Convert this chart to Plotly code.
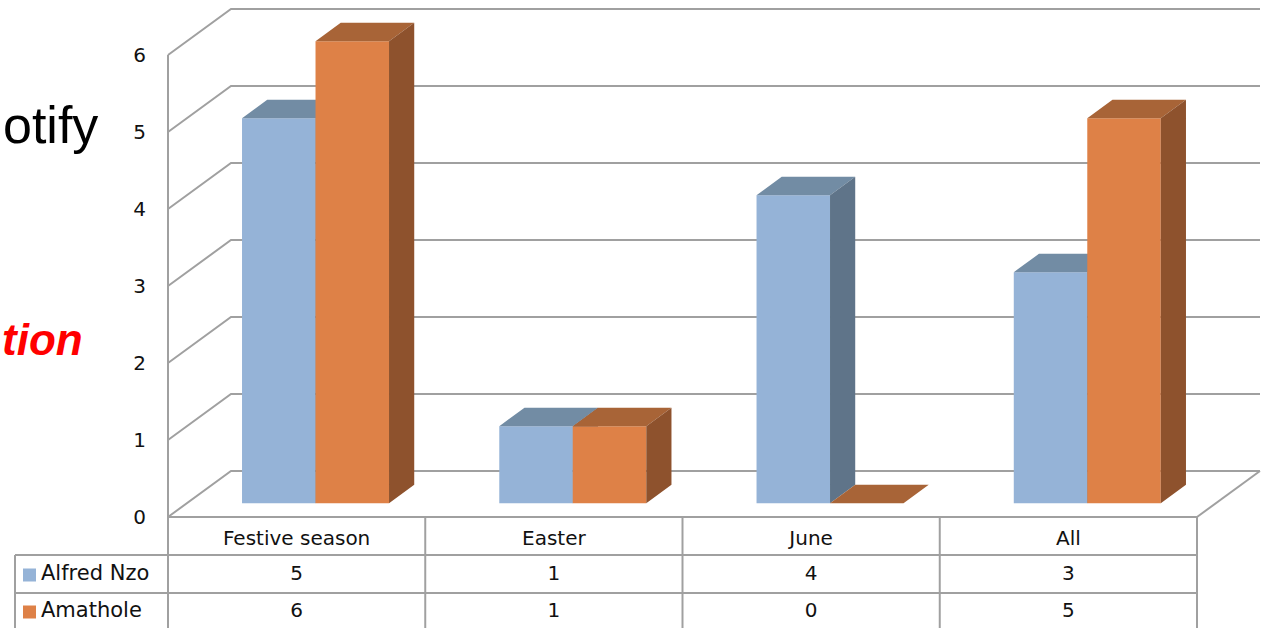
import plotly.graph_objects as go

# ---------------- data ----------------
categories = ["Festive season", "Easter", "June", "All"]
series_names = ["Alfred Nzo", "Amathole"]
alfred_nzo = [5, 1, 4, 3]
amathole = [6, 1, 0, 5]
y_ticks = [0, 1, 2, 3, 4, 5, 6]
series_values = [alfred_nzo, amathole]

# ---------------- style ----------------
front_colors = ["#95B3D7", "#DE8147"]
top_colors = ["#728CA4", "#A86437"]
side_colors = ["#5F7489", "#8E522D"]
grid_color = "#A0A0A0"
FONT = "DejaVu Sans"
FS = 20

W, H = 1262, 628
PX0, CATW = 168.0, 257.25      # front-left corner x, width of one category (px)
PY0, UNIT = 517.0, 77.0        # front baseline y, pixels per value unit

def px2x(px):
    return (px - PX0) / CATW

def py2y(py):
    return (PY0 - py) / UNIT

DX, DY = 63 / CATW, 46 / UNIT  # full depth offset of the back wall (data units)
D1, D2 = 0.30, 0.70            # bar front / back depth fractions
ncat = len(categories)
nser = len(series_values)
bw = 1.0 / (nser + 1.5)        # bar width, gap width 150 %
gap = (1.0 - nser * bw) / 2

fig = go.Figure()

# ---------------- back wall grid + floor ----------------
gx, gy = [], []
for v in y_ticks:
    gx += [0, DX, ncat + DX, None]
    gy += [v, v + DY, v + DY, None]
gx += [ncat, ncat + DX, None]
gy += [0, DY, None]
fig.add_trace(go.Scatter(x=gx, y=gy, mode="lines", line=dict(color=grid_color, width=2),
                         hoverinfo="skip", showlegend=False))

# ---------------- table grid ----------------
t_top = 0.0
t_r1 = py2y(555)
t_r2 = py2y(593)
t_bot = py2y(632)
leg_left = px2x(15)
tx, ty = [], []
tx += [0, ncat, None]; ty += [t_top, t_top, None]
tx += [leg_left, ncat, None]; ty += [t_r1, t_r1, None]
tx += [leg_left, ncat, None]; ty += [t_r2, t_r2, None]
tx += [leg_left, leg_left, None]; ty += [t_r1, t_bot, None]
tx += [0, 0, None]; ty += [max(y_ticks), t_bot, None]
for i in range(1, ncat + 1):
    tx += [i, i, None]; ty += [t_top, t_bot, None]
fig.add_trace(go.Scatter(x=tx, y=ty, mode="lines", line=dict(color=grid_color, width=2),
                         hoverinfo="skip", showlegend=False))

# ---------------- 3D bars ----------------
o1x, o1y = D1 * DX, D1 * DY
o2x, o2y = D2 * DX, D2 * DY
for s, vals in enumerate(series_values):
    fx, fy, topx, topy, sx, sy = [], [], [], [], [], []
    for i, v in enumerate(vals):
        xl = i + gap + s * bw
        xr = xl + bw
        fx += [xl + o1x, xr + o1x, xr + o1x, xl + o1x, xl + o1x, None]
        fy += [o1y, o1y, v + o1y, v + o1y, o1y, None]
        topx += [xl + o1x, xr + o1x, xr + o2x, xl + o2x, xl + o1x, None]
        topy += [v + o1y, v + o1y, v + o2y, v + o2y, v + o1y, None]
        sx += [xr + o1x, xr + o2x, xr + o2x, xr + o1x, xr + o1x, None]
        sy += [o1y, o2y, v + o2y, v + o1y, o1y, None]
    for px_, py_, col in [(fx, fy, front_colors[s]), (topx, topy, top_colors[s]),
                          (sx, sy, side_colors[s])]:
        fig.add_trace(go.Scatter(x=px_, y=py_, mode="lines", fill="toself",
                                 fillcolor=col, line=dict(width=0, color=col),
                                 hoverinfo="skip", showlegend=False,
                                 name=series_names[s]))

# ---------------- table text ----------------
cat_centers = [i + 0.5 for i in range(ncat)]
fig.add_trace(go.Scatter(x=cat_centers, y=[py2y(540)] * ncat, mode="text", text=categories,
                         textfont=dict(family=FONT, size=FS, color="#111111"),
                         cliponaxis=False, hoverinfo="skip", showlegend=False))
row_y = [py2y(575), py2y(612)]
for s, vals in enumerate(series_values):
    fig.add_trace(go.Scatter(x=cat_centers, y=[row_y[s]] * ncat, mode="text",
                             text=[str(v) for v in vals],
                             textfont=dict(family=FONT, size=FS, color="#111111"),
                             cliponaxis=False, hoverinfo="skip", showlegend=False))
    fig.add_trace(go.Scatter(x=[px2x(29.5)], y=[row_y[s]], mode="markers",
                             marker=dict(symbol="square", size=13, color=front_colors[s],
                                         line=dict(width=0)),
                             cliponaxis=False, hoverinfo="skip", showlegend=False))
    fig.add_trace(go.Scatter(x=[px2x(41)], y=[row_y[s]], mode="text",
                             text=[series_names[s]], textposition="middle right",
                             textfont=dict(family=FONT, size=21, color="#111111"),
                             cliponaxis=False, hoverinfo="skip", showlegend=False))

# ---------------- leftover slide text ----------------
fig.add_annotation(x=1 / W, y=1 - 125 / H, xref="paper", yref="paper", xanchor="left",
                   yanchor="middle", text="otify", showarrow=False,
                   font=dict(family="Liberation Sans", size=52, color="#000000"))
fig.add_annotation(x=85 / W, y=1 - 339 / H, xref="paper", yref="paper", xanchor="right",
                   yanchor="middle", text="<b><i>tion</i></b>", showarrow=False,
                   font=dict(family="Liberation Sans", size=44, color="#FF0000"))

fig.update_layout(
    width=W, height=H, margin=dict(l=0, r=0, t=0, b=0),
    paper_bgcolor="white", plot_bgcolor="white", showlegend=False,
    xaxis=dict(range=[px2x(0), px2x(W)], visible=False, fixedrange=True),
    yaxis=dict(range=[py2y(H), py2y(0)], tickvals=y_ticks, ticktext=[str(t) for t in y_ticks],
               anchor="free", position=PX0 / W, showgrid=False, zeroline=False,
               showline=False, ticks="", ticklabelstandoff=22, automargin=False,
               tickfont=dict(family=FONT, size=FS, color="#111111"), fixedrange=True),
)

fig.write_html("out.html")
